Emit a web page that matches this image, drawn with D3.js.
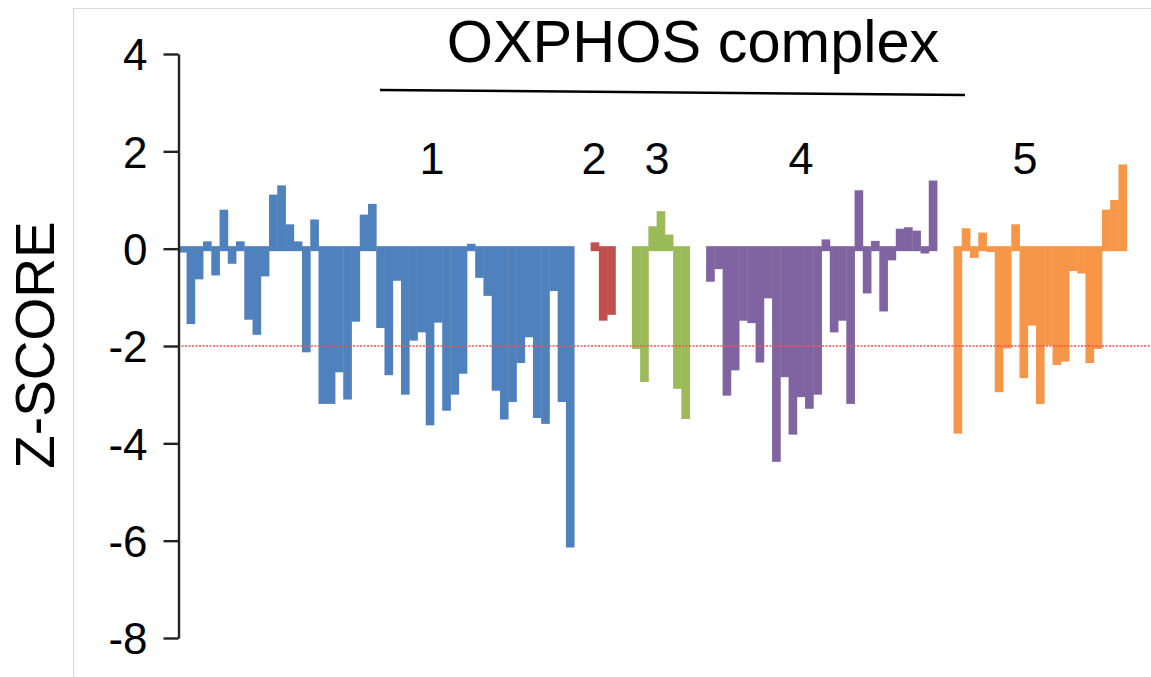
<!DOCTYPE html>
<html>
<head>
<meta charset="utf-8">
<script src="https://cdn.jsdelivr.net/npm/d3@7"></script>
<style>
  html, body { margin: 0; padding: 0; background: #ffffff; }
  svg { display: block; }
  text { font-family: "Liberation Sans", Arial, sans-serif; fill: #000; }
</style>
</head>
<body>
<svg id="chart" width="1151" height="677"></svg>
<script>
// Z-scores per OXPHOS subunit, grouped by complex (I to V)
const complex1 = [-0.08, -1.55, -0.63, 0.15, -0.55, 0.8, -0.31, 0.15, -1.46, -1.77,
  -0.57, 1.11, 1.3, 0.5, 0.15, -2.13, 0.6, -3.19, -3.19, -2.54,
  -3.1, -1.5, 0.7, 0.92, -1.63, -2.6, -0.66, -3.0, -1.89, -1.72,
  -3.63, -1.52, -3.33, -3.0, -2.57, 0.1, -0.6, -0.97, -2.92, -3.51,
  -3.15, -2.35, -1.82, -3.48, -3.6, -0.87, -3.15, -6.14];
const complex2 = [0.13, -1.48, -1.36];
const complex3 = [-2.06, -2.74, 0.46, 0.77, 0.29, -2.88, -3.5];
const complex4 = [-0.68, -0.42, -3.02, -2.5, -1.48, -1.53, -2.34, -1.02, -4.38, -2.64,
  -3.82, -3.05, -3.29, -3.0, 0.19, -1.72, -1.48, -3.19, 1.2, -0.92,
  0.16, -1.29, -0.24, 0.41, 0.44, 0.37, -0.1, 1.4];
const complex5 = [-3.8, 0.42, -0.19, 0.33, -0.07, -2.95, -2.05, 0.5, -2.66, -1.58,
  -3.19, -1.99, -2.39, -2.32, -0.46, -0.51, -2.35, -2.06, 0.8, 1.0, 1.73];

const groupNames = ["1", "2", "3", "4", "5"];
const groupColors = ["#4f81bd", "#c0504d", "#9bbb59", "#8064a2", "#f79646"];
const yTicks = [4, 2, 0, -2, -4, -6, -8];
const yTitle = "Z-SCORE";
const headerTitle = "OXPHOS complex";
const threshold = -2;
const gapSlots = 2; // empty category slots between complexes

// build the category list: subunits of each complex separated by empty slots
const groups = [complex1, complex2, complex3, complex4, complex5];
const categories = [];
const bars = [];
groups.forEach((vals, gi) => {
  if (gi > 0) {
    for (let k = 0; k < gapSlots; k++) categories.push(`gap${gi}-${k}`);
  }
  vals.forEach((v, i) => {
    const id = `C${gi + 1}-${i + 1}`;
    categories.push(id);
    bars.push({ id, value: v, group: gi });
  });
});

const svg = d3.select("#chart");

// outer frame
svg.append("rect")
  .attr("x", 73.5).attr("y", 8.5)
  .attr("width", 1200).attr("height", 800)
  .attr("fill", "none").attr("stroke", "#d9d9d9").attr("stroke-width", 1);

const x = d3.scaleBand().domain(categories).range([178.3, 1126.7]).paddingInner(0).paddingOuter(0);
const y = d3.scaleLinear().domain([-8, 4]).range([638, 54]);

// bars (each bar also spans a thin band across the zero line)
const pad = 2.5;
const y0 = y(0);
svg.append("g").selectAll("rect")
  .data(bars)
  .join("rect")
  .attr("x", d => x(d.id))
  .attr("width", x.bandwidth() + 0.4)
  .attr("y", d => Math.min(y(d.value), y0 - pad))
  .attr("height", d => Math.max(y(d.value), y0 + pad) - Math.min(y(d.value), y0 - pad))
  .attr("fill", d => groupColors[d.group]);

// significance threshold
svg.append("line")
  .attr("x1", 178).attr("x2", 1151)
  .attr("y1", y(threshold)).attr("y2", y(threshold))
  .attr("stroke", "#ff4d4d").attr("stroke-width", 1.3)
  .attr("stroke-dasharray", "2,1.5");

// y axis
const yAxis = d3.axisLeft(y).tickValues(yTicks).tickSize(15).tickSizeOuter(0).tickPadding(16)
  .tickFormat(d => String(d));
const gy = svg.append("g").attr("transform", "translate(178.5,0)").call(yAxis);
gy.select(".domain").attr("stroke", "#222").attr("stroke-width", 2.4);
gy.selectAll(".tick line").attr("stroke", "#222").attr("stroke-width", 2.4);
gy.selectAll(".tick text")
  .attr("font-size", 44)
  .attr("font-family", "Liberation Sans, Arial, sans-serif")
  .attr("fill", "#000")
  .attr("dy", "0.36em");

// y axis title
svg.append("text")
  .attr("transform", `translate(54,345) rotate(-90)`)
  .attr("text-anchor", "middle")
  .attr("font-size", 55)
  .text(yTitle);

// header over the complexes
svg.append("text")
  .attr("x", 693).attr("y", 62)
  .attr("text-anchor", "middle")
  .attr("font-size", 59.5)
  .text(headerTitle);

svg.append("line")
  .attr("x1", 380).attr("x2", 965)
  .attr("y1", 90).attr("y2", 95)
  .attr("stroke", "#000").attr("stroke-width", 2.5);

// complex numbers
const labelX = [432, 594, 657, 801, 1025];
groupNames.forEach((name, gi) => {
  svg.append("text")
    .attr("x", labelX[gi]).attr("y", 174)
    .attr("text-anchor", "middle")
    .attr("font-size", 45)
    .text(name);
});
</script>
</body>
</html>
